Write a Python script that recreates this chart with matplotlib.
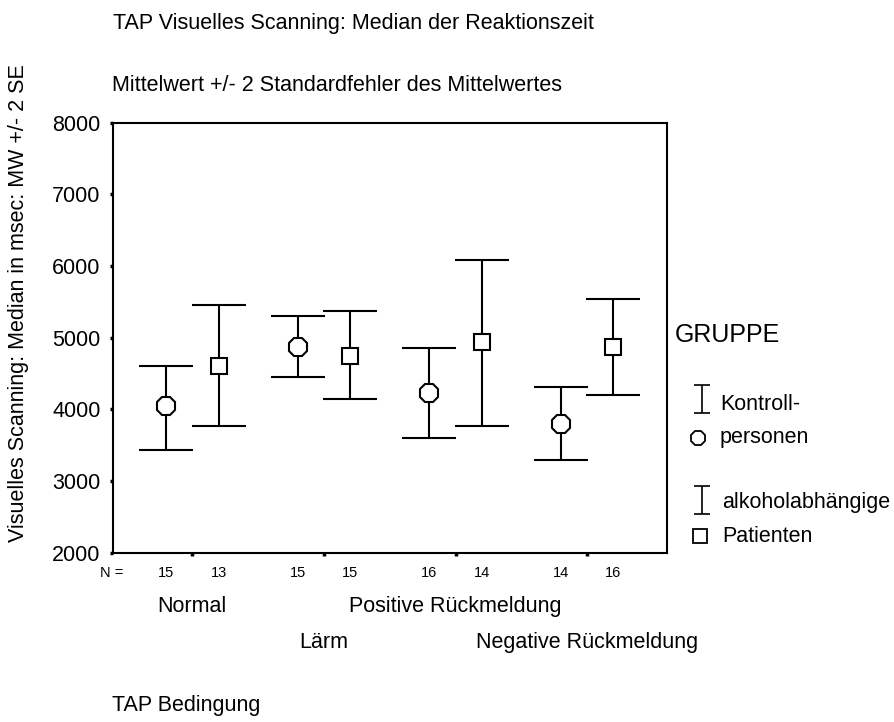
import matplotlib
matplotlib.use("Agg")
import matplotlib.pyplot as plt
import numpy as np

plt.rcParams["font.family"] = ["Liberation Sans", "DejaVu Sans"]

# TAP condition categories and group statistics (mean, mean +/- 2 SE)
conditions = ["Normal", "Lärm", "Positive Rückmeldung", "Negative Rückmeldung"]
kontroll_mean = [4043, 4868, 4230, 3792]
kontroll_lo = [3429, 4453, 3597, 3299]
kontroll_hi = [4612, 5300, 4859, 4314]
patient_mean = [4612, 4742, 4943, 4868]
patient_lo = [3764, 4147, 3764, 4203]
patient_hi = [5464, 5380, 6092, 5547]
n_kontroll = [15, 15, 16, 14]
n_patient = [13, 15, 14, 16]
y_ticks = [2000, 3000, 4000, 5000, 6000, 7000, 8000]

W, H = 894, 722
FS = 15.5  # SPSS default text size


def fx(px):
    return px / W


def fy(py):
    return 1 - py / H


fig = plt.figure(figsize=(W / 100, H / 100), dpi=100)
ax_bot, ax_top = 552.8, 122.8
ax = fig.add_axes([fx(112.5), fy(ax_bot), fx(667) - fx(112.5), fy(ax_top) - fy(ax_bot)])


def below(py):
    # axes-fraction y for a pixel row under the x axis
    return -(py - ax_bot) / (ax_bot - ax_top)


pos = np.arange(1, len(conditions) + 1)
off = 0.2
groups = [
    (pos - off, kontroll_mean, kontroll_lo, kontroll_hi, "8", 14.5),
    (pos + off, patient_mean, patient_lo, patient_hi, "s", 11.5),
]
for x, m, lo, hi, mk, ms in groups:
    m = np.array(m); lo = np.array(lo); hi = np.array(hi)
    ax.errorbar(x, m, yerr=[m - lo, hi - m], fmt="none", ecolor="black",
                elinewidth=1.5, capsize=19.5, capthick=1.5, zorder=2)
    ax.plot(x, m, linestyle="none", marker=mk, markersize=ms, mfc="white",
            mec="black", mew=1.5, zorder=3)

ax.set_xlim(0.393, 4.607)
ax.set_ylim(2000, 8000)
ax.set_yticks(y_ticks)
ax.set_yticklabels([str(t) for t in y_ticks], fontsize=FS)
ax.set_xticks(pos)
ax.set_xticklabels([])
ax.tick_params(direction="out", length=2.5, width=2.5, pad=6)
for s in ax.spines.values():
    s.set_linewidth(1.5)

# N row under the axis
trans = ax.get_xaxis_transform()
fig.text(fx(100), fy(577), "N =", fontsize=10.5, va="baseline")
for xs, ns in ((pos - off, n_kontroll), (pos + off, n_patient)):
    for x, n in zip(xs, ns):
        ax.text(x, below(577), str(n), transform=trans, fontsize=10.5,
                ha="center", va="baseline")

# staggered category labels
for i, (x, c) in enumerate(zip(pos, conditions)):
    yb = 612 if i % 2 == 0 else 648
    ax.text(x, below(yb), c, transform=trans, fontsize=FS, ha="center", va="baseline")

# titles and axis labels
fig.text(fx(113), fy(28.5), "TAP Visuelles Scanning: Median der Reaktionszeit",
         fontsize=FS, va="baseline")
fig.text(fx(112), fy(91), "Mittelwert +/- 2 Standardfehler des Mittelwertes",
         fontsize=FS, va="baseline")
fig.text(fx(112), fy(711.5), "TAP Bedingung", fontsize=FS, va="baseline")
fig.text(fx(19), fy(303), "Visuelles Scanning: Median in msec: MW +/- 2 SE",
         fontsize=FS, rotation=90, ha="center", va="center")

# legend drawn by hand in pixel space
lax = fig.add_axes([0, 0, 1, 1])
lax.set_xlim(0, W)
lax.set_ylim(H, 0)
lax.axis("off")
fig.text(fx(675), fy(342), "GRUPPE", fontsize=18, va="baseline")
for yc in (399, 500):
    lax.errorbar([702], [yc], yerr=[[14], [14]], fmt="none", ecolor="black",
                 elinewidth=1.2, capsize=5.5, capthick=1.2)
lax.plot([698], [438], linestyle="none", marker="8", markersize=11, mfc="white",
         mec="black", mew=1.3)
lax.plot([700], [535.5], linestyle="none", marker="s", markersize=9.5, mfc="white",
         mec="black", mew=1.3)
fig.text(fx(720), fy(410), "Kontroll-", fontsize=FS, va="baseline")
fig.text(fx(720), fy(443), "personen", fontsize=FS, va="baseline")
fig.text(fx(722), fy(508), "alkoholabhängige", fontsize=FS, va="baseline")
fig.text(fx(722), fy(542), "Patienten", fontsize=FS, va="baseline")

fig.savefig("out.png", dpi=100)
